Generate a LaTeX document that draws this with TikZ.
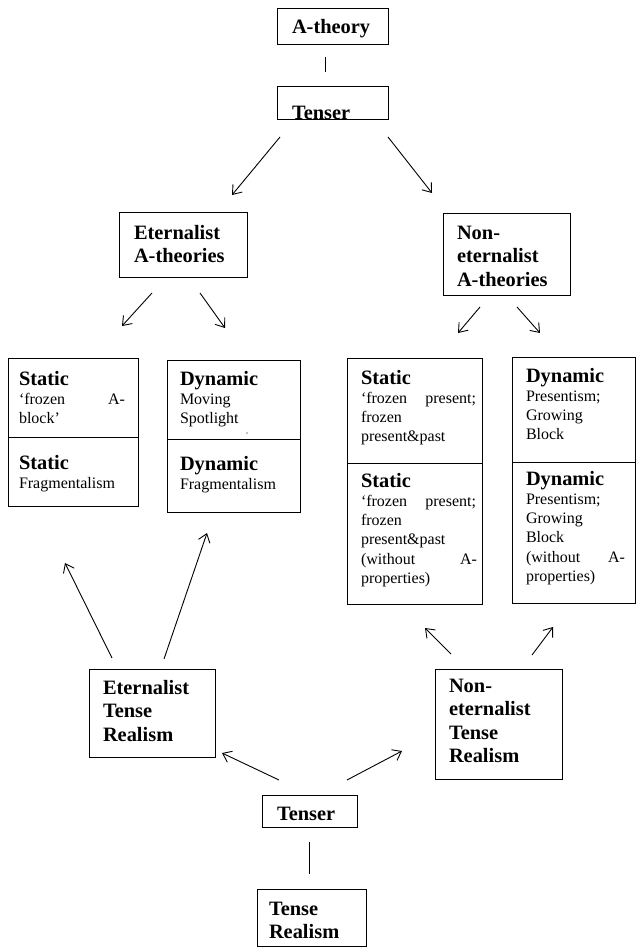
\documentclass[tikz,border=0pt]{standalone}
\usepackage{fontspec}
\setmainfont{Liberation Serif}
\usetikzlibrary{arrows.meta,calc}
\newcommand\hfnt{\fontsize{20.4}{23.5}\selectfont\bfseries}
\newcommand\rfnt{\fontsize{16}{19.3}\selectfont}
% \boxtext{width}{height}{padleft}{firstbaseline}{content}
\newcommand\boxtext[5]{\parbox[t][#2pt][t]{#1pt}{\leftskip=#3pt\parindent=0pt\rightskip=0pt plus 1fil\parfillskip=0pt plus 1fil\vspace*{\dimexpr#4pt-16pt\relax}\leavevmode\rule{0pt}{16pt}#5}}
\newcommand\jl[2]{\leavevmode\hbox to #1pt{#2}}
\tikzset{
  box/.style={draw, line width=1pt, inner sep=0pt, outer sep=0pt, anchor=north west},
  arr/.style={line width=0.9pt, -{Straight Barb[length=8pt,width=12pt]}},
  link/.style={line width=0.9pt}
}
\begin{document}
\begin{tikzpicture}[x=1pt,y=-1pt]
\useasboundingbox (0,0) rectangle (636,952);
% top
\node[box] (t0) at (277,9) {\boxtext{111}{36}{15}{24.5}{{\hfnt A-theory\par}}};
\node[box] (t1) at (277,87) {\boxtext{111}{33}{15}{32.5}{{\hfnt Tenser\par}}};
\node[box] (etA) at (119,212) {\boxtext{128}{65}{15}{27}{{\hfnt Eternalist\\A-theories\par}}};
\node[box] (neA) at (443,213) {\boxtext{127}{82}{14}{26}{{\hfnt Non-\\eternalist\\A-theories\par}}};
% middle boxes
\node[box] (sLa) at (8,358) {\boxtext{130}{79}{11}{27}{{\hfnt Static\par}{\rfnt\jl{106}{‘frozen\hfill A-}\\block’\par}}};
\node[box] (sLb) at (8,437) {\boxtext{130}{69}{11}{32}{{\hfnt Static\par}{\rfnt Fragmentalism\par}}};
\node[box] (dLa) at (167,360) {\boxtext{133}{79}{13}{25}{{\hfnt Dynamic\par}{\rfnt Moving\\Spotlight\par}}};
\node[box] (dLb) at (167,439) {\boxtext{133}{73}{13}{31}{{\hfnt Dynamic\par}{\rfnt Fragmentalism\par}}};
\node[box] (sRa) at (347,358) {\boxtext{135}{105}{14}{26}{{\hfnt Static\par}{\rfnt\jl{115}{‘frozen\hfill present;}\\frozen\\present\&past\par}}};
\node[box] (sRb) at (347,463) {\boxtext{135}{141}{14}{24}{{\hfnt Static\par}{\rfnt\jl{115}{‘frozen\hfill present;}\\frozen\\present\&past\\\jl{116}{(without\hfill A-}\\properties)\par}}};
\node[box] (dRa) at (512,357) {\boxtext{123.5}{105}{14}{25}{{\hfnt Dynamic\par}{\rfnt Presentism;\\Growing\\Block\par}}};
\node[box] (dRb) at (512,462) {\boxtext{123.5}{141}{14}{23}{{\hfnt Dynamic\par}{\rfnt Presentism;\\Growing\\Block\\\jl{99}{(without\hfill A-}\\properties)\par}}};
% bottom
\node[box] (etTR) at (89,669) {\boxtext{126}{88}{14}{25}{{\hfnt Eternalist\\Tense\\Realism\par}}};
\node[box] (neTR) at (435,669) {\boxtext{127}{110}{14}{23}{{\hfnt Non-\\eternalist\\Tense\\Realism\par}}};
\node[box] (t2) at (262,795) {\boxtext{95}{32}{15}{25}{{\hfnt Tenser\par}}};
\node[box] (tR) at (257,889) {\boxtext{109}{57}{12}{26}{{\hfnt Tense\\Realism\par}}};
% stray mark
\fill (247,433) circle (0.6);
% connectors
\draw[link] ($(t0.south)+(-7.5,12)$) -- ($(t1.north)+(-7.5,-15)$);
\draw[arr] ($(t1.south west)+(3,17)$) -- ($(etA.north east)+(-15,-17)$);
\draw[arr] ($(t1.south east)+(0,17)$) -- ($(neA.north west)+(-11,-20)$);
\draw[arr] ($(etA.south west)+(33,16)$) -- ($(sLa.north west)+(114,-32)$);
\draw[arr] ($(etA.south west)+(81,16)$) -- ($(dLa.north west)+(58,-32)$);
\draw[arr] ($(neA.south west)+(37,12)$) -- ($(sRa.north west)+(111,-25)$);
\draw[arr] ($(neA.south west)+(74,12)$) -- ($(dRa.north west)+(28,-24)$);
\draw[arr] ($(etTR.north west)+(23,-11)$) -- ($(sLb.south west)+(57,57)$);
\draw[arr] ($(etTR.north west)+(75,-10)$) -- ($(dLb.south west)+(40,21)$);
\draw[arr] ($(neTR.north west)+(16,-15)$) -- ($(sRb.south west)+(78,24)$);
\draw[arr] ($(neTR.north west)+(97,-14)$) -- ($(dRb.south west)+(41,24)$);
\draw[arr] ($(t2.north west)+(17,-15)$) -- ($(etTR.south east)+(7,-4)$);
\draw[arr] ($(t2.north east)+(-10,-15)$) -- ($(neTR.south west)+(-33,-28)$);
\draw[link] ($(t2.south)+(-0.5,15)$) -- ($(tR.north)+(-2.5,-15)$);
\end{tikzpicture}
\end{document}
